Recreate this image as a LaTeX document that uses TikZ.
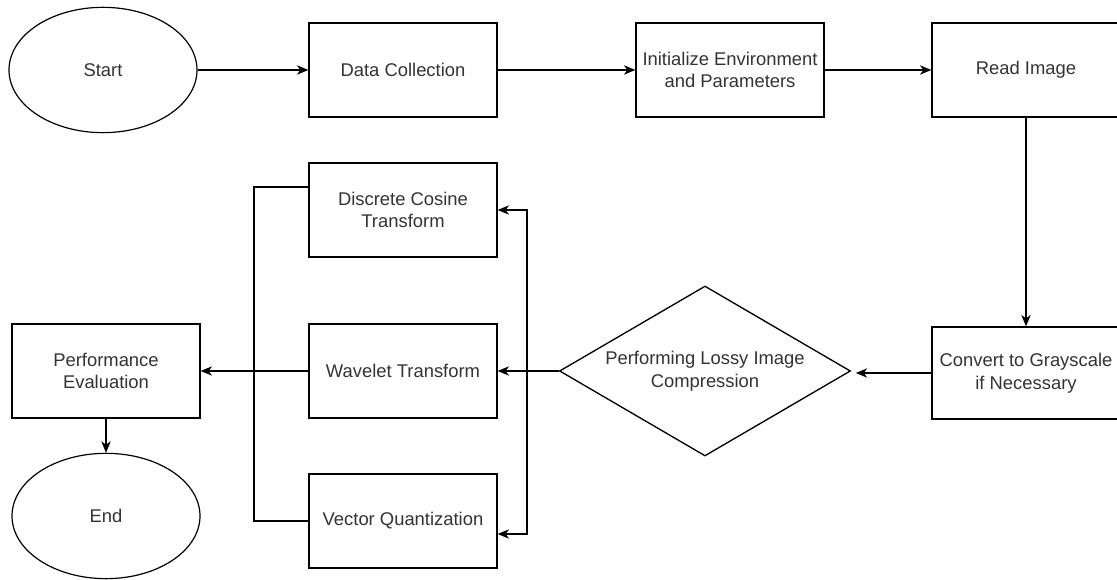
\documentclass[tikz,border=0pt]{standalone}
\usepackage{fontspec}
\setmainfont{Liberation Sans}
\usetikzlibrary{shapes.geometric,arrows.meta,calc}
\definecolor{txt}{HTML}{333333}
\begin{document}
\begin{tikzpicture}[x=0.75pt,y=-0.75pt,
  lbl/.style={font=\fontsize{13.8pt}{16.9pt}\selectfont, text=txt},
  box/.style={lbl, draw, line width=1pt, rectangle, minimum width=141pt, minimum height=70.5pt, align=center, inner sep=0pt},
  term/.style={lbl, draw, line width=0.9pt, ellipse, minimum width=141pt, minimum height=94pt, inner sep=0pt},
  dec/.style={lbl, draw, line width=1pt, diamond, minimum width=218.25pt, minimum height=127.5pt, aspect=1.71, inner sep=0pt, align=center},
  conn/.style={line width=1pt, -{Stealth[length=8.5pt,width=7pt,inset=2.5pt]}},
  plainline/.style={line width=1pt}]
\useasboundingbox (0,0) rectangle (1117,580);
\node[term] (start) at (103,70) {Start};
\node[box] (dc) at (403,70) {Data Collection};
\node[box] (init) at (730,70) {Initialize Environment\\and Parameters};
\node[box] (read) at (1026,70) {Read Image};
\node[box, minimum height=69pt] (conv) at (1026,373) {Convert to Grayscale\\if Necessary};
\node[dec] (lossy) at (705,371) {Performing Lossy Image\\Compression};
\node[box] (dct) at (403,210) {Discrete Cosine\\Transform};
\node[box] (wave) at (403,371) {Wavelet Transform};
\node[box] (vq) at (403,521) {Vector Quantization};
\node[box] (perf) at (106,371) {Performance\\Evaluation};
\node[term] (end) at (106,516) {End};
\coordinate (jr) at (527,371);
\coordinate (jl) at (254,371);
\draw[conn] (start) -- (dc);
\draw[conn] (dc) -- (init);
\draw[conn] (init) -- (read);
\draw[conn] (read) -- (conv);
\draw[conn, shorten >=3.5pt] (conv.west) -- (lossy.east |- conv.west);
\draw[conn] (lossy.west) -- (wave.east);
\draw[conn] (jr) |- (dct.east);
\draw[conn] (jr) |- ($(vq.east)+(0,13)$);
\draw[plainline] ($(dct.west)+(0,-23)$) -| (jl) |- (vq.west);
\draw[conn] (wave.west) -- (perf.east);
\draw[conn] (perf) -- (end);
\end{tikzpicture}
\end{document}
